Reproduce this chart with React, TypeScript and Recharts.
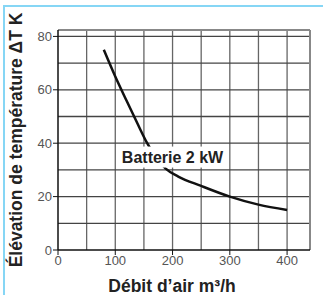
import { LineChart, Line, XAxis, YAxis, ReferenceLine, ReferenceDot } from "recharts";

const debit = [80, 100, 120, 140, 155, 170, 188, 210, 250, 300, 350, 400];
const elevation = [75, 65, 55.8, 46.8, 40.3, 35, 30.5, 27.5, 24, 20, 17, 15];

const X_TICKS = [0, 100, 200, 300, 400];
const Y_TICKS = [0, 20, 40, 60, 80];
const X_GRID = [50, 100, 150, 200, 250, 300, 350, 400];
const Y_GRID = [10, 20, 30, 40, 50, 60, 70, 80];
const X_MAX = 440;
const Y_MAX = 82.4;

const SERIES_LABEL = "Batterie 2 kW";
const LABEL_X = 200;
const LABEL_Y = 35;

const data = debit.map((d, i) => ({ debit: d, elevation: elevation[i] }));

const FONT = "'Liberation Sans', Arial, sans-serif";

export default function App() {
  return (
    <div style={{ position: "absolute", left: 0, top: 0, width: 323, height: 295, background: "#fff" }}>
      <div
        style={{
          position: "absolute",
          left: 3,
          top: 5,
          right: 0,
          bottom: 0,
          borderLeft: "2px solid #86d6f5",
          borderTop: "2px solid #86d6f5",
        }}
      />
      <div style={{ position: "absolute", left: 0, top: 0 }}>
        <LineChart width={323} height={295} data={data} margin={{ top: 30, right: 13, bottom: 25, left: 18 }}>
          {X_GRID.map((v) => (
            <ReferenceLine key={"x" + v} x={v} stroke="#666" strokeWidth={1.3} />
          ))}
          {Y_GRID.map((v) => (
            <ReferenceLine key={"y" + v} y={v} stroke="#444" strokeWidth={1.3} />
          ))}
          <ReferenceLine y={Y_MAX} stroke="#888" strokeWidth={2} />
          <ReferenceLine x={X_MAX} stroke="#888" strokeWidth={2} />
          <XAxis
            dataKey="debit"
            type="number"
            domain={[0, X_MAX]}
            ticks={X_TICKS}
            height={20}
            tickSize={5}
            tickMargin={1}
            axisLine={{ stroke: "#111", strokeWidth: 1.5 }}
            tickLine={{ stroke: "#111" }}
            tick={{ fontSize: 13, fill: "#555", fontFamily: FONT }}
            label={{
              content: () => (
                <text x={172} y={292} textAnchor="middle" fontSize={17.5} fontWeight="bold" fill="#222" fontFamily={FONT}>
                  Débit d’air m³/h
                </text>
              ),
            }}
          />
          <YAxis
            type="number"
            domain={[0, Y_MAX]}
            ticks={Y_TICKS}
            width={40}
            tickSize={5}
            tickMargin={1}
            axisLine={{ stroke: "#111", strokeWidth: 1.5 }}
            tickLine={{ stroke: "#111" }}
            tick={{ fontSize: 13, fill: "#555", fontFamily: FONT }}
            label={{
              content: () => (
                <text
                  x={22}
                  y={140}
                  transform="rotate(-90 22 140)"
                  textAnchor="middle"
                  fontSize={17.5}
                  fontWeight="bold"
                  fill="#222"
                  fontFamily={FONT}
                >
                  Élévation de température ΔT K
                </text>
              ),
            }}
          />
          <Line
            type="monotone"
            dataKey="elevation"
            stroke="#111"
            strokeWidth={2.5}
            dot={false}
            isAnimationActive={false}
          />
          <ReferenceDot
            x={LABEL_X}
            y={LABEL_Y}
            r={0}
            shape={(p: any) => (
              <g>
                <rect x={p.cx - 56} y={p.cy - 10} width={112} height={21} fill="#fff" />
                <text x={p.cx} y={p.cy + 6} textAnchor="middle" fontSize={16} fontWeight="bold" fill="#222" fontFamily={FONT}>
                  {SERIES_LABEL}
                </text>
              </g>
            )}
          />
        </LineChart>
      </div>
    </div>
  );
}
